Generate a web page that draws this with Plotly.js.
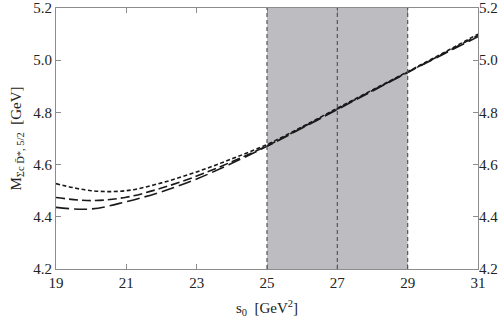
<!DOCTYPE html>
<html>
<head>
<meta charset="utf-8">
<script src="https://cdn.plot.ly/plotly-3.0.1.min.js"></script>
<style>
  html, body { margin: 0; padding: 0; background: #fff; }
  #chart { width: 504px; height: 325px; }
</style>
</head>
<body>
<div id="chart"></div>
<script>
// threshold parameter s0 [GeV^2]
const s0 = [19, 20, 21, 22, 23, 24, 25, 26, 27, 28, 29, 30, 31];

// mass curves [GeV] for the three Borel parameter choices
const massShortDash = [4.527, 4.500, 4.500, 4.530, 4.572, 4.622, 4.677, 4.745, 4.816, 4.886, 4.956, 5.027, 5.100];
const massMidDash   = [4.474, 4.462, 4.475, 4.510, 4.556, 4.611, 4.672, 4.742, 4.813, 4.884, 4.954, 5.024, 5.095];
const massLongDash  = [4.436, 4.430, 4.458, 4.496, 4.545, 4.605, 4.670, 4.740, 4.811, 4.882, 4.953, 5.022, 5.090];

// working window of s0 and its central value
const bandEdges = [25, 27, 29];

const xTicks = [19, 21, 23, 25, 27, 29, 31];
const yTicks = [4.2, 4.4, 4.6, 4.8, 5.0, 5.2];
const yTickText = ['4.2', '4.4', '4.6', '4.8', '5.0', '5.2'];

const serif = 'Liberation Serif, Times New Roman, serif';
const axisGray = '#8c8c8c';

function curve(y, dash) {
    return {
        x: s0, y: y, type: 'scatter', mode: 'lines',
        line: { color: '#1a1a1a', width: 1.6, dash: dash, shape: 'spline' },
        hoverinfo: 'skip', showlegend: false
    };
}

const traces = [
    curve(massShortDash, '4px,2.5px'),
    curve(massMidDash, '9px,4px'),
    curve(massLongDash, '13px,5px'),
    // invisible copy so the right-hand axis gets drawn
    { x: s0, y: massShortDash, yaxis: 'y2', type: 'scatter', mode: 'lines',
      line: { width: 0 }, opacity: 0, hoverinfo: 'skip', showlegend: false }
];

const shapes = [
    { type: 'rect', xref: 'x', yref: 'paper', x0: bandEdges[0], x1: bandEdges[2], y0: 0, y1: 1,
      fillcolor: '#bdbdc1', line: { width: 0 }, layer: 'below' }
];
bandEdges.forEach(e => {
    shapes.push({ type: 'line', xref: 'x', yref: 'paper', x0: e, x1: e, y0: 0, y1: 1,
                  line: { color: '#555', width: 1.2, dash: '4px,3px' }, layer: 'above' });
});

const yCommon = {
    range: [4.2, 5.2], tickvals: yTicks, ticktext: yTickText,
    ticks: 'inside', ticklen: 5, tickcolor: axisGray,
    showgrid: false, zeroline: false,
    tickfont: { family: serif, size: 15, color: '#222' }
};

const layout = {
    width: 504, height: 325,
    margin: { l: 56, r: 26, t: 8, b: 56 },
    paper_bgcolor: '#fff', plot_bgcolor: '#fff',
    showlegend: false,
    xaxis: {
        range: [19, 31], tickvals: xTicks,
        ticks: 'inside', ticklen: 5, tickcolor: axisGray,
        showline: true, linecolor: axisGray, linewidth: 1, mirror: 'ticks',
        showgrid: false, zeroline: false,
        tickfont: { family: serif, size: 15, color: '#222' },
        title: { text: 's<sub>0</sub>  [GeV<sup>2</sup>]', font: { family: serif, size: 15, color: '#222' }, standoff: 12 }
    },
    yaxis: Object.assign({}, yCommon, {
        showline: true, linecolor: axisGray, linewidth: 1, mirror: 'ticks',
        ticklabelstandoff: 0,
        title: { text: 'M<sub>Σc D̄*, 5/2</sub>  [GeV]', font: { family: serif, size: 15, color: '#222' }, standoff: 8 }
    }),
    yaxis2: Object.assign({}, yCommon, {
        overlaying: 'y', side: 'right', showline: false
    }),
    shapes: shapes
};

Plotly.newPlot('chart', traces, layout, { staticPlot: true, displayModeBar: false });
</script>
</body>
</html>
